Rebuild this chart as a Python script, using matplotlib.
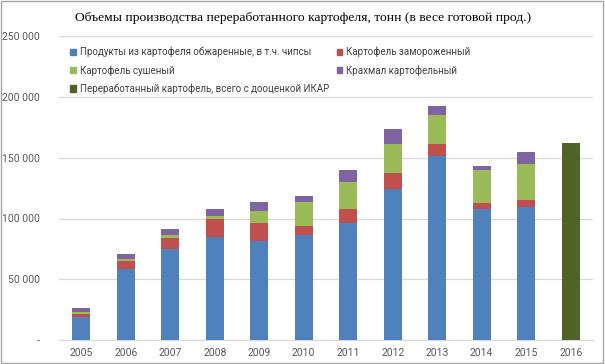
import matplotlib
matplotlib.use("Agg")
import matplotlib.pyplot as plt
from matplotlib.patches import Rectangle, Patch
import numpy as np

years = ["2005", "2006", "2007", "2008", "2009", "2010", "2011", "2012", "2013", "2014", "2015", "2016"]
fried = [18700, 58500, 75000, 84600, 81600, 86500, 96400, 124400, 151600, 108000, 109300, 0]
frozen = [3000, 6600, 9300, 14600, 14300, 7700, 11600, 12700, 9900, 4400, 6100, 0]
dried = [1600, 1700, 2000, 3000, 10400, 19300, 21900, 24400, 23400, 27700, 29100, 0]
starch = [2700, 4100, 5200, 5800, 7200, 5200, 10200, 12100, 7900, 3000, 10400, 0]
total_ikar = [0, 0, 0, 0, 0, 0, 0, 0, 0, 0, 0, 161800]

labels = ["Продукты из картофеля обжаренные, в т.ч. чипсы",
          "Картофель замороженный",
          "Картофель сушеный",
          "Крахмал картофельный",
          "Переработанный картофель, всего с дооценкой ИКАР"]
colors = ["#4F81BD", "#C0504D", "#9BBB59", "#8064A2", "#4F6228"]
yticks = [0, 50000, 100000, 150000, 200000, 250000]
ytick_labels = ["-", "50 000", "100 000", "150 000", "200 000", "250 000"]

plt.rcParams['font.family'] = ['Roboto', 'DejaVu Sans']

fig = plt.figure(figsize=(6.05, 3.64), dpi=100)
W, H = 605, 364
ax = fig.add_axes([59 / W, 1 - 340 / H, (593 - 59) / W, (340 - 36.25) / H])

x = np.arange(len(years))
bw = 0.40
series = [fried, frozen, dried, starch]
bottom = np.zeros(len(years))
for vals, c in zip(series, colors[:4]):
    v = np.array(vals, dtype=float)
    ax.bar(x, v, bw, bottom=bottom, color=c, zorder=3)
    bottom += v
ax.bar(x, total_ikar, bw, color=colors[4], zorder=3)

ax.set_xlim(-0.5, len(years) - 0.5)
ax.set_ylim(0, 250000)
ax.set_yticks(yticks)
ax.set_yticklabels(ytick_labels)
ax.set_xticks(x)
ax.set_xticklabels(years)
ax.tick_params(axis='both', length=0, labelsize=7.5, colors="#595959")
ax.tick_params(axis='y', pad=14)
ax.tick_params(axis='x', pad=6)
ax.yaxis.grid(True, color="#D9D9D9", linewidth=0.9, zorder=0)
for s in ["left", "right", "top"]:
    ax.spines[s].set_visible(False)
ax.spines["bottom"].set_color("#D9D9D9")

handles = [Patch(color=c) for c in colors]
order = [0, 2, 4, 1, 3]
leg = fig.legend([handles[i] for i in order], [labels[i] for i in order],
                 ncol=2, loc="upper left", bbox_to_anchor=(65 / W, 1 - 42 / H),
                 frameon=False, fontsize=7.0, handlelength=0.6, handleheight=0.6,
                 handletextpad=0.4, columnspacing=0.8, labelspacing=0.8,
                 borderpad=0, labelcolor="#404040")

fig.text(303 / W, 1 - 18 / H, "Объемы производства переработанного картофеля, тонн (в весе готовой прод.)",
         ha="center", va="center", fontsize=9.7, family=["Liberation Serif", "DejaVu Serif"], color="black")

fig.patches.append(Rectangle((0.5 / W, 1.5 / H), 602.5 / W, 362 / H, transform=fig.transFigure,
                             fill=False, edgecolor="#A6A6A6", linewidth=1.0))

fig.savefig("out.png", dpi=100)
